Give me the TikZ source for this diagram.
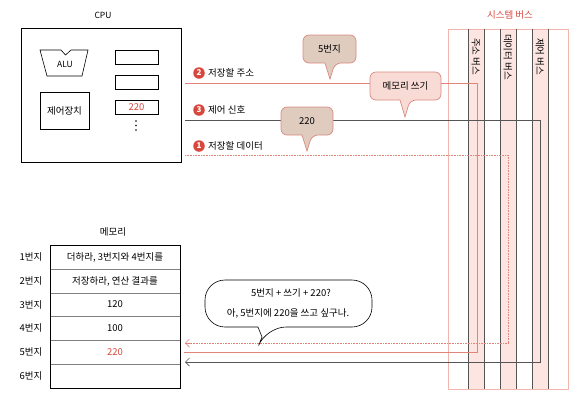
\documentclass[tikz,border=0pt]{standalone}
\usepackage{fontspec}
\setmainfont{Noto Sans CJK KR}
\usetikzlibrary{arrows.meta}
\definecolor{linered}{HTML}{E0857A}
\definecolor{numred}{HTML}{D8473C}
\definecolor{busedge}{HTML}{F2B5AC}
\definecolor{busfill}{HTML}{FDE6E2}
\definecolor{brownfill}{HTML}{DFCCBE}
\definecolor{pinkfill}{HTML}{F9DBD6}
\definecolor{bubedge}{HTML}{D98A7F}
\definecolor{darkline}{HTML}{555555}
\tikzset{
  txt/.style={font=\fontsize{9.5}{11}\selectfont, inner sep=1pt},
  smalltxt/.style={font=\fontsize{8.5}{10}\selectfont, inner sep=1pt},
  numc/.style={circle, fill=numred, text=white, inner sep=0pt, minimum size=11.5pt, font=\bfseries\fontsize{8}{8}\selectfont},
  addrline/.style={linered, line width=0.7pt},
  dataline/.style={linered, line width=0.8pt, dash pattern=on 0.8pt off 0.8pt},
  ctrlline/.style={darkline, line width=0.7pt},
  tip/.style={-{Straight Barb[length=4pt,width=8pt]}},
  bubbrown/.style={fill=brownfill, draw=bubedge, line width=0.7pt, rounded corners=6pt},
  bubpink/.style={fill=pinkfill, draw=bubedge, line width=0.7pt, rounded corners=6pt},
  busline/.style={darkline, line width=0.6pt},
  reg/.style={draw, line width=0.6pt}
}
\begin{document}
\begin{tikzpicture}[x=1pt,y=-1pt]
\useasboundingbox (0,0) rectangle (581,405);
% ---------- system bus ----------
\node[txt, text=numred] (bust) at (510,15) {시스템 버스};
\fill[busfill] (468,29) rectangle (484,389);
\fill[busfill] (500,29) rectangle (516,389);
\fill[busfill] (532,29) rectangle (548,389);
\draw[busedge, line width=0.7pt] (448,29) rectangle (568,389);
\foreach \x in {468,484,500,516,532,548} \draw[busline] (\x,29) -- (\x,389);
\node[txt, rotate=-90, anchor=west] (ab) at (476,37) {주소 버스};
\node[txt, rotate=-90, anchor=west] (db) at (508,33) {데이터 버스};
\node[txt, rotate=-90, anchor=west] (cb) at (540,37) {제어 버스};
% ---------- CPU ----------
\node[smalltxt] (cput) at (103,15) {CPU};
\draw[line width=0.7pt] (21,28) rectangle (181,162);
\draw[line width=0.6pt] (40,50) -- (61,50) -- (65.5,55) -- (71,50) -- (88,50) -- (82,76) -- (47,76) -- cycle;
\node[smalltxt] (alu) at (65,64) {ALU};
\node[draw, line width=0.6pt, minimum width=49pt, minimum height=37pt, inner sep=0pt, font=\fontsize{9.5}{11}\selectfont] (cu) at (64.5,110.5) {제어장치};
\draw[reg] (115,50) rectangle (158,64);
\draw[reg] (115,75) rectangle (158,89);
\draw[reg] (115,100) rectangle (158,114);
\node[txt, text=numred] (r3) at (136.5,107) {220};
\foreach \y in {121,125.5,130} \fill (136,\y) circle (0.8pt);
% ---------- connectors ----------
\coordinate (a0) at (185,83); \coordinate (a1) at (477,83);
\coordinate (a2) at (477,352); \coordinate (a3) at (184,352);
\coordinate (c0) at (185,120); \coordinate (c1) at (540,120);
\coordinate (c2) at (540,362); \coordinate (c3) at (185,362);
\coordinate (d0) at (185,155); \coordinate (d1) at (508,155);
\coordinate (d2) at (508,343); \coordinate (d3) at (185,343);
\draw[addrline] (a0) -- (a1) -- (a2) -- (a3);
\draw[ctrlline, tip] (c0) -- (c1) -- (c2) -- (c3);
\draw[dataline] (d0) -- (d1) -- (d2) -- (d3);
\draw[linered, line width=0.7pt, tip] ([xshift=6pt]d3) -- (d3);
\node[numc] (n2) at (199,73) {2};
\node[txt, anchor=west] (l2) at (207,73) {저장할 주소};
\node[numc] (n3) at (199,110) {3};
\node[txt, anchor=west] (l3) at (207,110) {제어 신호};
\node[numc] (n1) at (199,146) {1};
\node[txt, anchor=west] (l1) at (207,146) {저장할 데이터};
% ---------- bubbles ----------
\draw[bubbrown] (303,35) -- (356,35) -- (356,63) -- (335,63) [sharp corners] -- (330,79) -- (325,63) [rounded corners=6pt] -- (303,63) -- cycle;
\node[txt] (b1) at (329.5,49) {5번지};
\draw[bubpink] (370,72) -- (441,72) -- (441,100) -- (410,100) [sharp corners] -- (405,117) -- (400,100) [rounded corners=6pt] -- (370,100) -- cycle;
\node[txt] (b2) at (405.5,86) {메모리 쓰기};
\draw[bubbrown] (281,107) -- (333,107) -- (333,135) -- (312,135) [sharp corners] -- (307,151) -- (302,135) [rounded corners=6pt] -- (281,135) -- cycle;
\node[txt] (b3) at (307,121) {220};
% ---------- memory ----------
\node[txt] (memt) at (113,232) {메모리};
\foreach \y in {269,293,316,340,364} \draw[gray, line width=0.6pt] (50,\y) -- (180,\y);
\draw[line width=0.7pt] (50,245) rectangle (180,388);
\node[txt] (m1) at (115,257) {더하라, 3번지와 4번지를};
\node[txt] (m2) at (115,281) {저장하라, 연산 결과를};
\node[txt] (m3) at (115,304.5) {120};
\node[txt] (m4) at (115,328) {100};
\node[txt, text=numred] (m5) at (115,352) {220};
\node[txt] (k1) at (31,257) {1번지};
\node[txt] (k2) at (31,281) {2번지};
\node[txt] (k3) at (31,304.5) {3번지};
\node[txt] (k4) at (31,328) {4번지};
\node[txt] (k5) at (31,352) {5번지};
\node[txt] (k6) at (31,376) {6번지};
% ---------- bottom bubble ----------
\draw[fill=white, line width=0.6pt, rounded corners=20pt] (205,280) -- (372,280) -- (372,327) -- (266,327) [sharp corners] -- (262,337) -- (258,327) [rounded corners=20pt] -- (205,327) -- cycle;
\node[txt] (q1) at (291,293) {5번지 + 쓰기 + 220?};
\node[txt] (q2) at (288,313) {아, 5번지에 220을 쓰고 싶구나.};
\end{tikzpicture}
\end{document}
